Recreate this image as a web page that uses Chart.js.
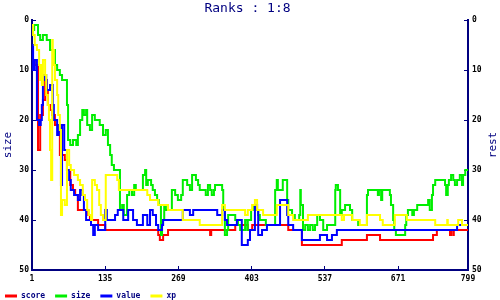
<!DOCTYPE html>
<html><head><meta charset="utf-8">
<script src="https://cdn.jsdelivr.net/npm/chart.js@4"></script>
<style>html,body{margin:0;padding:0;background:#fff}#wrap{width:500px;height:300px;position:relative}</style>
</head><body><div id="wrap"><canvas id="c"></canvas></div>
<script>
const chartTitle = 'Ranks : 1:8';
const leftAxisTitle = 'size';
const rightAxisTitle = 'rest';
const xTickValues = [1, 135, 269, 403, 537, 671, 799];
const seriesNames = ['score', 'size', 'value', 'xp'];
const seriesColors = ['#ff0000', '#00ee00', '#0000ff', '#ffff00'];

const scoreX = [1,6,12,16,21,25,28,30,34,38,43,49,52,61,65,71,76,80,85,104,107,122,135,232,235,241,250,327,329,373,396,404,470,495,568,614,638,735,742,766,768,772,773,799];
const scoreY = [8,9,26,19,16,12,14,17,18,19,21,22,27,28,30,33,34,35,38,39,40,41,42,43,44,43,42,43,42,41,42,41,42,45,44,43,44,43,42,43,42,43,42,42];

const sizeX = [1,5,12,16,21,28,34,43,47,52,56,65,67,71,76,82,85,89,93,96,100,102,107,111,116,125,131,136,140,144,147,151,162,166,169,175,179,184,188,191,204,208,210,213,219,222,226,230,233,237,239,243,246,257,263,268,274,277,285,290,294,301,305,308,319,323,327,330,334,336,349,351,352,354,358,360,373,378,382,391,395,396,402,405,409,415,418,429,446,449,451,460,468,470,477,482,490,492,493,497,501,506,510,515,519,523,528,534,541,556,557,561,565,568,574,583,587,598,614,616,634,636,640,642,656,658,662,664,667,684,686,689,697,700,706,726,729,733,735,739,757,759,762,764,768,772,775,779,784,788,790,794,799];
const sizeY = [2,1,3,4,3,4,6,9,10,11,12,17,24,25,24,25,23,20,18,19,18,21,22,19,20,21,23,22,25,27,29,30,38,37,39,35,34,35,33,34,31,30,33,32,33,34,35,36,37,43,40,37,38,34,35,36,35,32,33,34,31,32,33,34,35,33,34,35,34,33,34,37,38,43,42,39,40,41,42,40,42,40,38,37,38,39,40,41,34,32,34,32,36,38,39,40,39,34,37,42,41,42,41,42,41,39,40,42,41,34,33,34,39,38,37,38,40,41,35,34,35,34,36,34,35,37,40,42,43,41,39,38,39,38,37,36,38,35,33,32,33,35,33,32,31,32,33,32,31,33,31,30,30];

const valueX = [1,3,6,10,14,17,19,21,23,27,28,34,39,41,47,50,54,56,60,65,69,72,78,85,89,93,96,100,109,113,116,122,135,138,153,158,168,177,186,193,204,212,217,222,228,232,239,241,277,290,296,340,349,354,358,376,385,396,400,409,413,415,422,431,455,468,470,479,495,528,541,550,559,779,799];
const valueY = [5,10,8,20,21,20,17,12,11,12,14,13,17,20,23,21,33,21,26,30,32,34,35,36,34,35,38,40,41,43,41,42,38,40,39,38,40,38,40,41,39,41,38,39,41,42,41,40,38,39,38,39,38,40,41,40,45,44,42,37,38,43,42,41,36,39,41,42,44,43,44,43,42,41,41];

const xpX = [1,3,6,10,14,16,17,19,21,25,27,30,32,34,36,38,39,41,43,47,49,52,54,56,61,65,69,72,78,85,89,94,98,102,105,109,111,116,120,124,127,131,136,157,160,212,217,232,250,277,308,349,354,391,396,404,409,413,424,449,470,479,506,568,572,587,601,614,638,643,665,687,739,761,762,781,788,799];
const xpY = [1,3,5,6,9,12,9,13,8,11,15,17,20,26,32,4,6,9,12,15,19,22,39,36,37,26,29,30,31,32,33,35,36,38,39,40,32,33,34,37,39,40,31,32,34,35,36,37,38,40,41,37,38,39,38,37,36,38,39,37,39,40,39,40,39,40,41,39,40,41,39,40,41,40,41,40,41,41];

const NAVY = '#000080';
Chart.defaults.font.family = '"DejaVu Sans Mono", monospace';

function pts(xs, ys) { return xs.map((x, i) => ({x: x, y: ys[i]})); }
const seriesData = [pts(scoreX, scoreY), pts(sizeX, sizeY), pts(valueX, valueY), pts(xpX, xpY)];

const datasets = seriesNames.map((name, i) => ({
  label: name,
  data: seriesData[i],
  borderColor: seriesColors[i],
  backgroundColor: seriesColors[i],
  borderWidth: 2,
  pointRadius: 0,
  stepped: 'before',
  fill: false,
  tension: 0,
  borderJoinStyle: 'miter',
  borderCapStyle: 'butt',
  yAxisID: 'y',
  order: seriesNames.length - 1 - i
}));

const restTitle = {
  id: 'restTitle',
  afterDraw(chart) {
    const {ctx, chartArea} = chart;
    ctx.save();
    ctx.font = '11px "DejaVu Sans Mono"';
    ctx.fillStyle = NAVY;
    ctx.textAlign = 'center';
    ctx.textBaseline = 'middle';
    ctx.translate(chartArea.right + 25, (chartArea.top + chartArea.bottom) / 2);
    ctx.rotate(-Math.PI / 2);
    ctx.fillText(rightAxisTitle, 0, 0);
    ctx.restore();
  }
};

const gridOpts = {drawOnChartArea: false, drawTicks: true, tickLength: -4, color: NAVY, lineWidth: 1};
const borderOpts = {display: true, color: NAVY, width: 2};
const tickFont = {size: 8, weight: 'bold'};

new Chart(document.getElementById('c'), {
  type: 'line',
  data: {datasets: datasets},
  plugins: [restTitle],
  options: {
    responsive: true,
    maintainAspectRatio: false,
    animation: false,
    events: [],
    layout: {padding: {left: -5, right: 0, top: 0, bottom: -10}},
    plugins: {
      title: {display: true, text: chartTitle, color: NAVY, font: {size: 13, weight: 'normal', lineHeight: 1.2}, padding: {top: 0.4, bottom: 4}},
      legend: {
        display: true, position: 'bottom', align: 'start',
        labels: {
          color: NAVY, font: {size: 8, weight: 'bold'}, boxWidth: 12, boxHeight: 3, padding: 10,
          sort: (a, b) => a.datasetIndex - b.datasetIndex,
          generateLabels: (chart) => {
            const items = Chart.defaults.plugins.legend.labels.generateLabels(chart);
            items.forEach(it => { it.lineWidth = 0; it.fillStyle = seriesColors[it.datasetIndex]; });
            return items;
          }
        }
      },
      tooltip: {enabled: false}
    },
    scales: {
      x: {
        type: 'linear', min: 1, max: 799,
        afterBuildTicks: s => { s.ticks = xTickValues.map(v => ({value: v})); },
        afterFit: s => { s.height = 12; },
        ticks: {color: '#000', font: tickFont, padding: 8, maxRotation: 0, autoSkip: false, callback: v => String(v)},
        grid: gridOpts, border: borderOpts
      },
      y: {
        type: 'linear', position: 'left', reverse: true, min: 0, max: 50,
        afterFit: s => { s.width = 37; },
        ticks: {stepSize: 10, color: '#000', font: tickFont, padding: 7},
        title: {display: true, text: leftAxisTitle, color: NAVY, font: {size: 11}, padding: {top: 7, bottom: 0}},
        grid: gridOpts, border: borderOpts
      },
      y2: {
        type: 'linear', position: 'right', reverse: true, min: 0, max: 50,
        afterFit: s => { s.width = 32; },
        ticks: {stepSize: 10, color: '#000', font: tickFont, padding: 8},
        grid: gridOpts, border: borderOpts
      }
    }
  }
});
</script>
</body></html>
